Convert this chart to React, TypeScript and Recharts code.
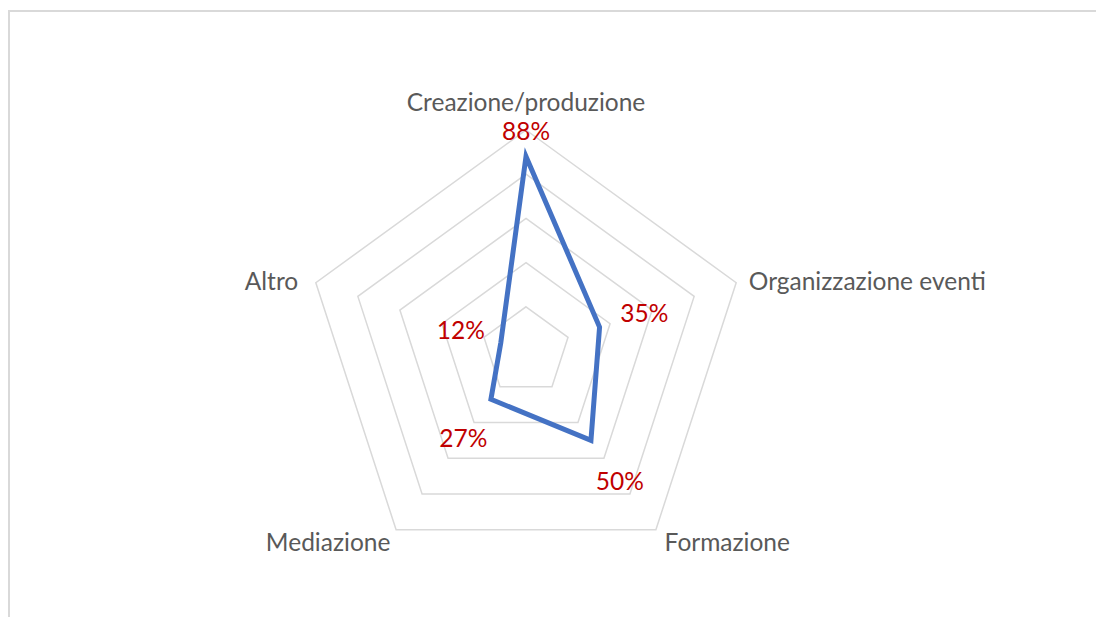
import React from "react";
import { RadarChart, Radar, PolarGrid, PolarAngleAxis, PolarRadiusAxis } from "recharts";

const categories = ["Creazione/produzione", "Organizzazione eventi", "Formazione", "Mediazione", "Altro"];
const values = [88, 35, 50, 27, 12];
const valueLabels = ["88%", "35%", "50%", "27%", "12%"];

const data = categories.map((c, i) => ({ name: c, value: values[i], label: valueLabels[i] }));

const FONT = "Lato, 'Open Sans', sans-serif";
const FS = 24.5;

// per-direction placement tweaks for category labels
const tickAdjust = [
  { dx: 0, dy: -21, anchor: "middle" },
  { dx: 5, dy: 0.5, anchor: "start" },
  { dx: 4, dy: 5.5, anchor: "start" },
  { dx: -1, dy: 5.5, anchor: "end" },
  { dx: -10, dy: 0.5, anchor: "end" },
];

const labelDist = [26, 47, 49, 47, 42];

const AngleTick = (props: any) => {
  const { x, y, payload, index } = props;
  const a = tickAdjust[index] || { dx: 0, dy: 0, anchor: "middle" };
  return (
    <text
      x={x + a.dx}
      y={y + a.dy}
      textAnchor={a.anchor}
      dominantBaseline="central"
      fill="#595959"
      fontSize={FS}
      fontFamily={FONT}
    >
      {payload.value}
    </text>
  );
};

const ValueLabel = (props: any) => {
  const { x, y, index } = props;
  const ang = ((90 - 72 * index) * Math.PI) / 180;
  const d = labelDist[index] ?? 40;
  const lx = x + Math.cos(ang) * d;
  const ly = y - Math.sin(ang) * d;
  return (
    <text
      x={lx}
      y={ly}
      textAnchor="middle"
      dominantBaseline="central"
      fill="#C00000"
      fontSize={FS}
      fontFamily={FONT}
    >
      {valueLabels[index]}
    </text>
  );
};

export default function App() {
  return (
    <div style={{ position: "fixed", left: 0, top: 0, width: 1096, height: 617, overflow: "hidden", background: "#fff" }}>
      <div
        style={{
          position: "absolute",
          left: 8,
          top: 10,
          width: 1200,
          height: 700,
          border: "2px solid #d9d9d9",
          boxSizing: "border-box",
        }}
      />
      <div style={{ position: "absolute", left: 0, top: 0 }}>
        <RadarChart width={1096} height={617} cx={526} cy={351} outerRadius={221} data={data}>
          <PolarGrid gridType="polygon" radialLines={false} stroke="#d9d9d9" strokeWidth={1.5} />
          <PolarAngleAxis dataKey="name" tick={AngleTick} tickLine={false} axisLine={false} />
          <PolarRadiusAxis domain={[0, 100]} tickCount={6} tick={false} axisLine={false} />
          <Radar
            dataKey="value"
            stroke="#4472C4"
            strokeWidth={5}
            fill="none"
            fillOpacity={0}
            dot={false}
            label={ValueLabel}
            isAnimationActive={false}
          />
        </RadarChart>
      </div>
    </div>
  );
}
